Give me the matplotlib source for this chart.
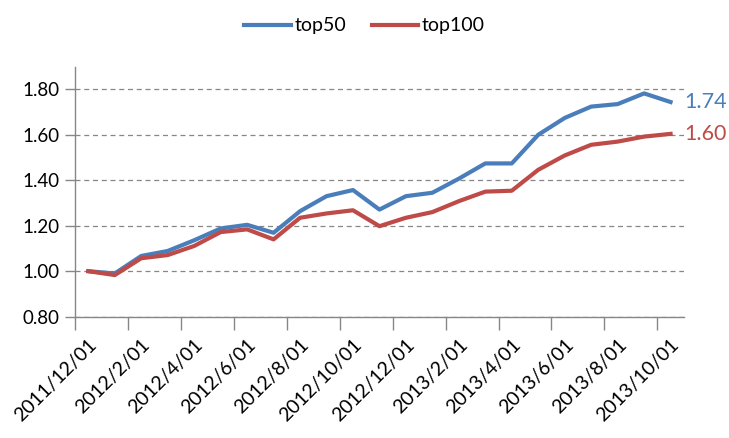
import matplotlib.pyplot as plt
import numpy as np

plt.rcParams['font.family'] = ['Lato', 'DejaVu Sans']

# Monthly index values, 2011/12 - 2013/10
months = ['2011/12/01', '2012/1/01', '2012/2/01', '2012/3/01', '2012/4/01', '2012/5/01',
          '2012/6/01', '2012/7/01', '2012/8/01', '2012/9/01', '2012/10/01', '2012/11/01',
          '2012/12/01', '2013/1/01', '2013/2/01', '2013/3/01', '2013/4/01', '2013/5/01',
          '2013/6/01', '2013/7/01', '2013/8/01', '2013/9/01', '2013/10/01']
top50 = [1.00, 0.99, 1.067, 1.089, 1.136, 1.188, 1.204, 1.169, 1.264, 1.330, 1.357, 1.271,
         1.330, 1.345, 1.407, 1.474, 1.474, 1.600, 1.674, 1.724, 1.735, 1.782, 1.744]
top100 = [1.00, 0.983, 1.057, 1.071, 1.111, 1.172, 1.184, 1.140, 1.235, 1.254, 1.268, 1.198,
          1.235, 1.260, 1.308, 1.350, 1.354, 1.446, 1.509, 1.556, 1.570, 1.592, 1.604]

blue = '#4A7EBB'
red = '#BE4B48'
grey = '#878787'

fig = plt.figure(figsize=(7.29, 4.38), dpi=100)
ax = fig.add_axes([0.103, 0.277, 0.835, 0.571])

x = np.arange(len(months))
ax.plot(x, top50, color=blue, linewidth=3, label='top50', solid_joinstyle='round')
ax.plot(x, top100, color=red, linewidth=3, label='top100', solid_joinstyle='round')

# end labels
ax.text(x[-1] + 0.5, top50[-1], f'{top50[-1]:.2f}', color=blue, fontsize=15.5, va='center', ha='left')
ax.text(x[-1] + 0.5, top100[-1], f'{top100[-1]:.2f}', color=red, fontsize=15.5, va='center', ha='left')

ax.set_xlim(-0.5, len(months) - 0.5)
ax.set_ylim(0.8, 1.9)
ax.set_yticks(np.arange(0.8, 1.81, 0.2))
ax.set_yticklabels([f'{v:.2f}' for v in np.arange(0.8, 1.81, 0.2)])
ax.yaxis.grid(True, linestyle=(0, (4, 3)), color=grey, linewidth=0.9)
ax.set_axisbelow(True)

# labels every 2 months, tick marks between categories
ax.set_xticks(x[::2])
ax.set_xticklabels(months[::2], rotation=45, ha='right', rotation_mode='anchor')
ax.set_xticks(x[::2] - 0.5, minor=True)
ax.tick_params(axis='x', which='major', length=0, pad=14, labelsize=14)
ax.tick_params(axis='x', which='minor', length=9, color=grey, width=1)
ax.tick_params(axis='y', length=7, color=grey, width=1, labelsize=13.5, pad=4)

for side in ['top', 'right']:
    ax.spines[side].set_visible(False)
for side in ['left', 'bottom']:
    ax.spines[side].set_color(grey)
    ax.spines[side].set_linewidth(1)

fig.legend(loc='upper center', bbox_to_anchor=(0.5, 1.0), ncol=2, frameon=False,
           fontsize=14, handlelength=2.4, handletextpad=0.2, columnspacing=1.3)

plt.savefig('out.png', dpi=100)
